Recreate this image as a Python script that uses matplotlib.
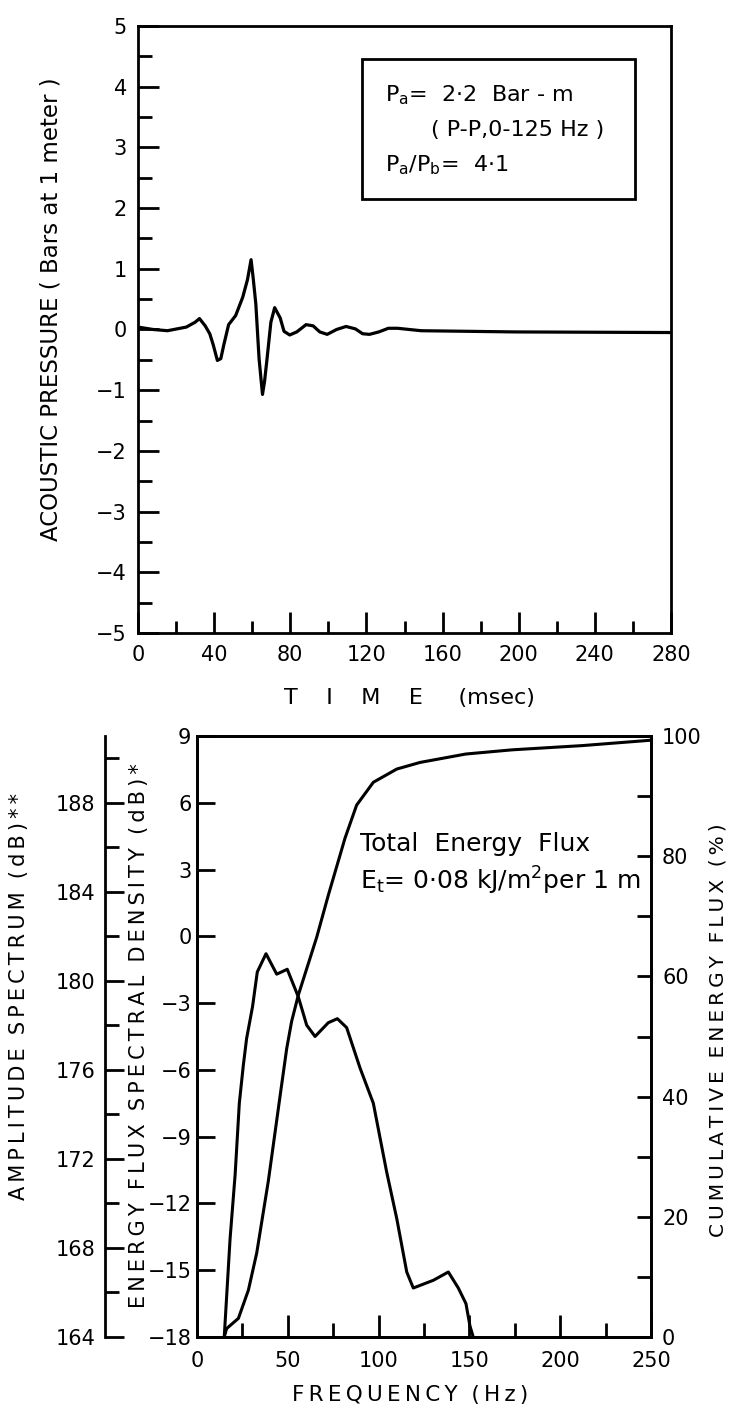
import matplotlib
matplotlib.use("Agg")
import matplotlib.pyplot as plt
from matplotlib.patches import Rectangle
from matplotlib.ticker import MultipleLocator

# pressure signature, time in msec, pressure in bar at 1 m
time_ms = [0, 8.0, 15.5, 25.4, 30.0, 32.3, 35.3, 37.7, 39.5, 41.7, 43.5, 45.1,
           47.6, 51.3, 55.0, 57.5, 59.4, 60.5, 61.9, 63.6, 65.4, 66.5, 67.8,
           69.8, 71.8, 74.7, 76.7, 79.7, 83.4, 88.3, 92.0, 95.5, 99.4, 104.3,
           109.3, 114.2, 118.0, 121.6, 126.5, 131.5, 136.4, 148.7, 198.0, 280.0]
pressure = [0.04, 0.0, -0.02, 0.04, 0.12, 0.18, 0.06, -0.07, -0.25, -0.51,
            -0.48, -0.25, 0.08, 0.23, 0.53, 0.82, 1.15, 0.85, 0.42, -0.48,
            -1.07, -0.85, -0.48, 0.12, 0.36, 0.19, -0.03, -0.09, -0.04, 0.08,
            0.06, -0.04, -0.08, 0.0, 0.05, 0.01, -0.07, -0.08, -0.04, 0.02,
            0.02, -0.02, -0.04, -0.05]

# energy flux spectral density (dB)
spec_freq = [15.0, 18.2, 21.0, 23.3, 25.5, 27.3, 30.6, 33.2, 38.0, 43.9, 49.7,
             55.8, 60.4, 65.0, 72.3, 77.3, 82.4, 89.8, 97.1, 104.4, 110.0,
             115.5, 119.1, 130.2, 138.4, 143.9, 148.1, 150.3, 152.1]
spec_db = [-18.0, -13.6, -10.7, -7.5, -5.8, -4.6, -3.15, -1.6, -0.78, -1.7,
           -1.48, -2.72, -3.99, -4.5, -3.88, -3.7, -4.1, -5.92, -7.5, -10.57,
           -12.68, -15.08, -15.8, -15.45, -15.08, -15.8, -16.5, -17.5, -18.0]

# cumulative energy flux (%)
cum_freq = [15.0, 16.3, 22.8, 28.3, 32.9, 39.3, 45.7, 49.4, 52.1, 55.8, 65.9,
            72.3, 81.5, 87.9, 97.1, 110.0, 122.8, 148.0, 173.6, 212.0, 250.0]
cum_pct = [0.0, 1.4, 3.1, 7.8, 14.0, 26.0, 40.0, 48.0, 52.5, 56.9, 66.5,
           73.5, 83.0, 88.5, 92.3, 94.5, 95.6, 97.0, 97.7, 98.4, 99.3]

W, H = 731, 1410
plt.rcParams['font.family'] = ['DejaVu Sans']
fig = plt.figure(figsize=(W / 100, H / 100), dpi=100)

LW = 2.0
TICK_FS = 15


def spaced(text, word_gap='  ', gap='\u2009'):
    # put a thin space between the letters of each word
    return word_gap.join(gap.join(word) for word in text.split(' '))


# ---------- upper panel: pressure signature ----------
ax1 = fig.add_axes([138 / W, 1 - 633 / H, 533 / W, 607 / H])
ax1.plot(time_ms, pressure, color='black', lw=2.3, solid_joinstyle='round')
ax1.set_xlim(0, 280)
ax1.set_ylim(-5, 5)
ax1.xaxis.set_major_locator(MultipleLocator(40))
ax1.xaxis.set_minor_locator(MultipleLocator(20))
ax1.yaxis.set_major_locator(MultipleLocator(1))
ax1.yaxis.set_minor_locator(MultipleLocator(0.5))
ax1.tick_params(axis='both', which='both', direction='in', width=LW,
                labelsize=TICK_FS, top=False, right=False)
ax1.tick_params(axis='y', which='major', length=15, pad=8)
ax1.tick_params(axis='y', which='minor', length=10)
ax1.tick_params(axis='x', which='major', length=15, pad=9)
ax1.tick_params(axis='x', which='minor', length=9)
for s in ax1.spines.values():
    s.set_linewidth(LW)

ax1.set_ylabel('ACOUSTIC PRESSURE ( Bars at 1 meter )', fontsize=16.5)
ax1.yaxis.set_label_coords(-0.141, 0.534)
ax1.set_xlabel('T    I    M    E     (msec)', fontsize=16)
ax1.xaxis.set_label_coords(0.51, -0.09)

ax1.add_patch(Rectangle((117.9, 2.15), 261 - 117.9, 4.46 - 2.15, fill=False,
                        edgecolor='black', lw=LW))
ax1.text(130, 3.86, r'P$_\mathregular{a}$=  2·2  Bar - m', fontsize=16,
         ha='left', va='center')
ax1.text(153.7, 3.29, '( P-P,0-125 Hz )', fontsize=16, ha='left', va='center')
ax1.text(130, 2.71, r'P$_\mathregular{a}$/P$_\mathregular{b}$=  4·1',
         fontsize=16, ha='left', va='center')

# ---------- lower panel: spectra ----------
ax2 = fig.add_axes([197 / W, 1 - 1337 / H, 454 / W, 601 / H])
ax2.plot(spec_freq, spec_db, color='black', lw=2.2, solid_joinstyle='round')
ax2.set_xlim(0, 250)
ax2.set_ylim(-18, 9)
ax2.xaxis.set_major_locator(MultipleLocator(50))
ax2.xaxis.set_minor_locator(MultipleLocator(25))
ax2.yaxis.set_major_locator(MultipleLocator(3))
ax2.tick_params(axis='both', which='both', direction='in', width=LW,
                labelsize=TICK_FS, top=False, right=False)
ax2.tick_params(axis='x', which='major', length=16, pad=10)
ax2.tick_params(axis='x', which='minor', length=10)
ax2.tick_params(axis='y', which='major', length=13, pad=4)
for s in ax2.spines.values():
    s.set_linewidth(LW)

# cumulative energy flux on the right
ax2r = ax2.twinx()
ax2r.plot(cum_freq, cum_pct, color='black', lw=2.2, solid_joinstyle='round')
ax2r.set_ylim(0, 100)
ax2r.yaxis.set_major_locator(MultipleLocator(20))
ax2r.yaxis.set_minor_locator(MultipleLocator(10))
ax2r.tick_params(axis='y', which='both', direction='in', width=LW, length=10,
                 labelsize=TICK_FS, pad=8)
for s in ax2r.spines.values():
    s.set_linewidth(LW)

# amplitude spectrum axis, offset to the left
ax3 = ax2.twinx()
ax3.set_ylim(164, 191)
ax3.spines['left'].set_position(('axes', -92 / 454))
ax3.spines['left'].set_visible(True)
ax3.spines['left'].set_linewidth(LW)
for name in ('right', 'top', 'bottom'):
    ax3.spines[name].set_visible(False)
ax3.yaxis.set_ticks_position('left')
ax3.yaxis.set_label_position('left')
ax3.yaxis.set_major_locator(MultipleLocator(4))
ax3.yaxis.set_minor_locator(MultipleLocator(4, offset=2))
ax3.tick_params(axis='y', which='both', direction='in', width=LW,
                labelsize=TICK_FS, pad=7)
ax3.tick_params(axis='y', which='major', length=14)
ax3.tick_params(axis='y', which='minor', length=10)

ax2.text(0.469, -0.097, spaced('FREQUENCY (Hz)'),
         transform=ax2.transAxes, fontsize=15.5, ha='center', va='center')
ax2.text(-0.391, 0.566, spaced('AMPLITUDE SPECTRUM (dB)**'),
         transform=ax2.transAxes, fontsize=15, rotation=90,
         ha='center', va='center')
ax2.text(-0.1286, 0.502, spaced('ENERGY FLUX SPECTRAL DENSITY (dB)*'),
         transform=ax2.transAxes, fontsize=15, rotation=90,
         ha='center', va='center')
ax2.text(1.148, 0.511, spaced('CUMULATIVE ENERGY FLUX (%)'),
         transform=ax2.transAxes, fontsize=14.5, rotation=90,
         ha='center', va='center')

ax2.text(89.8, 4.17, 'Total  Energy  Flux', fontsize=18, ha='left', va='center')
ax2.text(89.8, 2.5, r'E$_\mathregular{t}$= 0·08 kJ/m$^\mathregular{2}$per 1 m',
         fontsize=18, ha='left', va='center')

fig.savefig('out.png', dpi=100)
